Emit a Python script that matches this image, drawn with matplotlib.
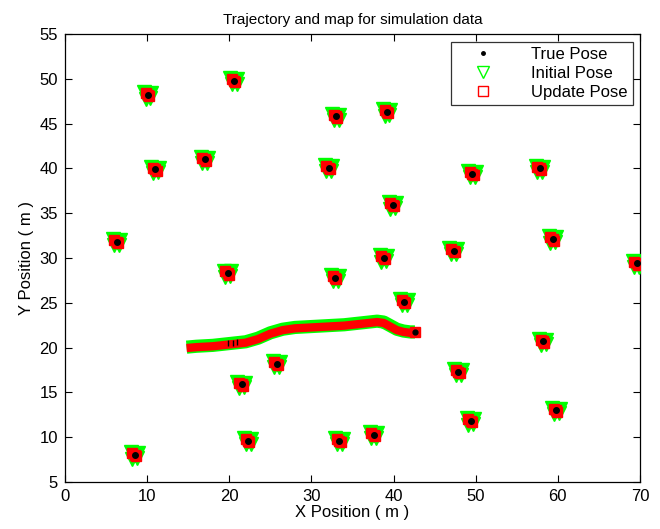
import matplotlib
matplotlib.use("Agg")
import matplotlib.pyplot as plt
from matplotlib.lines import Line2D

plt.rcParams['font.family'] = ['Liberation Sans', 'DejaVu Sans']

# Landmark positions (x, y) in metres
land_x = [10.1, 20.6, 33.0, 39.2, 11.0, 17.0, 32.1, 39.9, 49.6, 57.8,
          6.3, 19.8, 32.9, 38.8, 47.3, 59.4, 69.6, 41.3, 58.2, 25.8,
          21.5, 47.9, 22.3, 33.4, 37.6, 49.4, 59.8, 8.5]
land_y = [48.2, 49.8, 45.8, 46.3, 39.9, 41.0, 40.1, 35.9, 39.4, 40.0,
          31.8, 28.3, 27.8, 30.0, 30.8, 32.1, 29.4, 25.1, 20.7, 18.2,
          15.9, 17.3, 9.6, 9.6, 10.3, 11.8, 13.0, 8.0]

# Vehicle trajectory key poses
traj_x = [14.8, 16.0, 18.0, 20.0, 22.0, 23.5, 25.0, 26.5, 28.0, 30.0,
          32.0, 34.0, 36.0, 38.0, 38.8, 39.6, 40.4, 41.2, 42.0, 42.6]
traj_y = [20.0, 20.1, 20.2, 20.4, 20.6, 21.0, 21.6, 22.0, 22.2, 22.3,
          22.4, 22.5, 22.7, 22.9, 22.8, 22.4, 22.0, 21.8, 21.7, 21.7]

fig = plt.figure(figsize=(6.6, 5.29), dpi=100)
ax = fig.add_axes([65/660, 1-482/529, 575/660, 448/529])

# trajectory band
ax.plot(traj_x, [v + 0.05 for v in traj_y], color='#00ff00', lw=9.5, solid_capstyle='butt', zorder=2)
ax.plot(traj_x, [v - 0.05 for v in traj_y], color='#ff0000', lw=6, solid_capstyle='butt', zorder=3)
ax.plot(traj_x[-1:], traj_y[-1:], 's', mfc='#ff0000', mec='#ff0000', ms=7, zorder=5)
ax.plot(traj_x[-1:], traj_y[-1:], 'o', color='black', ms=3.5, zorder=6)
ax.plot([19.8, 20.4, 21.0], [20.5, 20.5, 20.6], '|', color='black', ms=5, mew=1, zorder=6)

# landmark clusters
g_off = [(0.0, 0.0), (-0.5, 0.3), (0.3, -0.35), (-0.3, -0.4), (0.4, 0.2)]
r_off = [(0.0, 0.0), (-0.3, 0.2), (0.15, -0.15)]
for dx, dy in g_off:
    ax.plot([x + dx for x in land_x], [y + dy for y in land_y], 'v', color='#00ff00',
            ms=10.5, mec='#00ff00', mew=1, ls='none', zorder=4)
for dx, dy in r_off:
    ax.plot([x + dx for x in land_x], [y + dy for y in land_y], 's', mfc='#ff0000',
            mec='#ff0000', ms=7, mew=1, ls='none', zorder=5)
ax.plot(land_x, land_y, 'o', color='black', ms=4, ls='none', zorder=6)

ax.set_xlim(0, 70)
ax.set_ylim(5, 55)
ax.set_xticks(range(0, 71, 10))
ax.set_yticks(range(5, 56, 5))
ax.tick_params(direction='in', top=True, right=True, labelsize=12, length=5, width=0.8, pad=5)
for s in ax.spines.values():
    s.set_linewidth(0.9)
ax.set_xlabel('X Position ( m )', fontsize=12, labelpad=1)
ax.set_ylabel('Y Position ( m )', fontsize=12, labelpad=4)
ax.set_title('Trajectory and map for simulation data', fontsize=11, pad=7)

handles = [
    Line2D([], [], ls='none', marker='.', color='black', ms=5),
    Line2D([], [], ls='none', marker='v', mfc='none', mec='#00ff00', ms=9, mew=1),
    Line2D([], [], ls='none', marker='s', mfc='none', mec='#ff0000', ms=7, mew=1),
]
leg = ax.legend(handles, ['True Pose', 'Initial Pose', 'Update Pose'], loc='upper right',
                fontsize=12, frameon=True, fancybox=False, edgecolor='black',
                borderaxespad=0.45, handletextpad=1.3, handlelength=3.2,
                labelspacing=0.25, borderpad=0.3)
leg.get_frame().set_linewidth(0.9)

fig.savefig('out.png', dpi=100)
